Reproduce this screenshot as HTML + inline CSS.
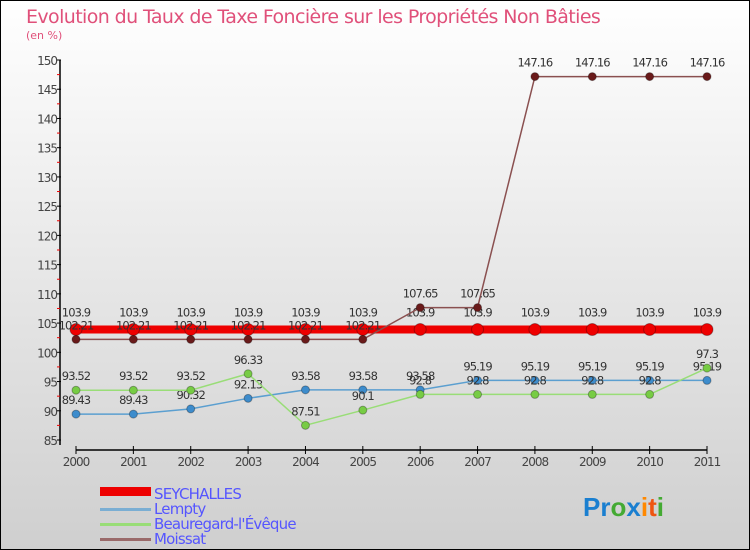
<!DOCTYPE html>
<html><head><meta charset="utf-8"><style>
body{margin:0;width:750px;height:550px;overflow:hidden}
svg{display:block;font-family:"DejaVu Sans","Liberation Sans",sans-serif}
</style></head><body>
<svg width="750" height="550">
<defs><linearGradient id="bg" x1="0" y1="0" x2="0" y2="1"><stop offset="0" stop-color="#ffffff"/><stop offset="1" stop-color="#cfcfcf"/></linearGradient></defs>
<rect x="0.5" y="0.5" width="749" height="549" fill="url(#bg)" stroke="#000"/>
<text x="26" y="23" font-size="19" fill="#e0507a" style="letter-spacing:-0.6px">Evolution du Taux de Taxe Foncière sur les Propriétés Non Bâties</text>
<text x="26" y="39" font-size="11" fill="#e0507a">(en %)</text>
<g id="axes"></g>
<g id="series"></g>
<g font-size="15" fill="#5555ff" style="letter-spacing:-0.8px">
<rect x="100" y="487" width="51" height="9" fill="#e00"/>
<text x="154" y="499">SEYCHALLES</text>
<rect x="100" y="508" width="51" height="3" fill="#7aaed3"/>
<text x="154" y="514">Lempty</text>
<rect x="100" y="523" width="51" height="3" fill="#99dd77"/>
<text x="154" y="529">Beauregard-l'Évêque</text>
<rect x="100" y="538" width="51" height="3" fill="#9a6a6a"/>
<text x="154" y="544">Moissat</text>
</g>
<g font-size="26" font-weight="bold" font-family="Liberation Sans,sans-serif">
<text x="583" y="516"><tspan fill="#1a7fd0">Pr</tspan><tspan fill="#44aa33">o</tspan><tspan fill="#1a7fd0">x</tspan><tspan fill="#ff8800">i</tspan><tspan fill="#ee5511">t</tspan><tspan fill="#44aa33">i</tspan></text>
</g>
</svg>
<script>
const years=[2000,2001,2002,2003,2004,2005,2006,2007,2008,2009,2010,2011];
const yTicks=[85,90,95,100,105,110,115,120,125,130,135,140,145,150];
const seychalles=[103.9,103.9,103.9,103.9,103.9,103.9,103.9,103.9,103.9,103.9,103.9,103.9];
const lempty=[89.43,89.43,90.32,92.13,93.58,93.58,93.58,95.19,95.19,95.19,95.19,95.19];
const beauregard=[93.52,93.52,93.52,96.33,87.51,90.1,92.8,92.8,92.8,92.8,92.8,97.3];
const moissat=[102.21,102.21,102.21,102.21,102.21,102.21,107.65,107.65,147.16,147.16,147.16,147.16];
const NS="http://www.w3.org/2000/svg";
function X(i){return 76+i*(707-76)/(years.length-1);}
function Y(v){return 60+(150-v)*(440-60)/(150-85);}
function mk(t,a,p){const e=document.createElementNS(NS,t);for(const k in a)e.setAttribute(k,a[k]);p.appendChild(e);return e;}
const ax=document.getElementById('axes');
let yl=mk('line',{x1:60,y1:60,x2:60,y2:445,stroke:'#000','stroke-width':1.5},ax);


yTicks.forEach(v=>{
 mk('line',{x1:57,y1:Y(v),x2:61,y2:Y(v),stroke:'#000'},ax);
 if(v<150)mk('line',{x1:57,y1:Y(v+2.5),x2:60,y2:Y(v+2.5),stroke:'#e00'},ax);
 const t=mk('text',{x:57,y:Y(v)+5,'font-size':12,fill:'#444','text-anchor':'end','letter-spacing':'-1'},ax);
 t.textContent=v;
 
 
});
let xl=mk('line',{x1:76,y1:450,x2:707,y2:450,stroke:'#000','stroke-width':1.5},ax);


years.forEach((y,i)=>{
 mk('line',{x1:X(i),y1:446,x2:X(i),y2:454,stroke:'#000'},ax);
 const t=mk('text',{x:X(i),y:466,'font-size':12,fill:'#444','text-anchor':'middle','letter-spacing':'-1'},ax);
 t.textContent=y;
 
 
});
const sg=document.getElementById('series');
function draw(name,vals,color,lw,r,fill,dy){
 const g=mk('g',{},sg);
 
 
 mk('polyline',{points:vals.map((v,i)=>X(i)+','+Y(v)).join(' '),fill:'none',stroke:color,'stroke-width':lw},g);
 vals.forEach((v,i)=>{
  const c=mk('circle',{cx:X(i),cy:Y(v),r:r,fill:fill,stroke:'rgba(0,0,0,0.3)'},g);
  
  
  const t=mk('text',{x:X(i),y:Y(v)+dy,'font-size':11.5,fill:'#333','text-anchor':'middle','letter-spacing':'-0.9'},g);
  t.textContent=v;
  
  
 });
}
draw('lempty',lempty,'#5b9fd0',1.5,4,'#3d8ccc',-10);
draw('beauregard',beauregard,'#99dd77',1.5,4,'#77cc44',-10);
draw('seychalles',seychalles,'#ee0000',8,6,'#ee0000',-13);
draw('moissat',moissat,'#8a5050',1.5,4,'#6a1a1a',-10);
</script>
</body></html>
